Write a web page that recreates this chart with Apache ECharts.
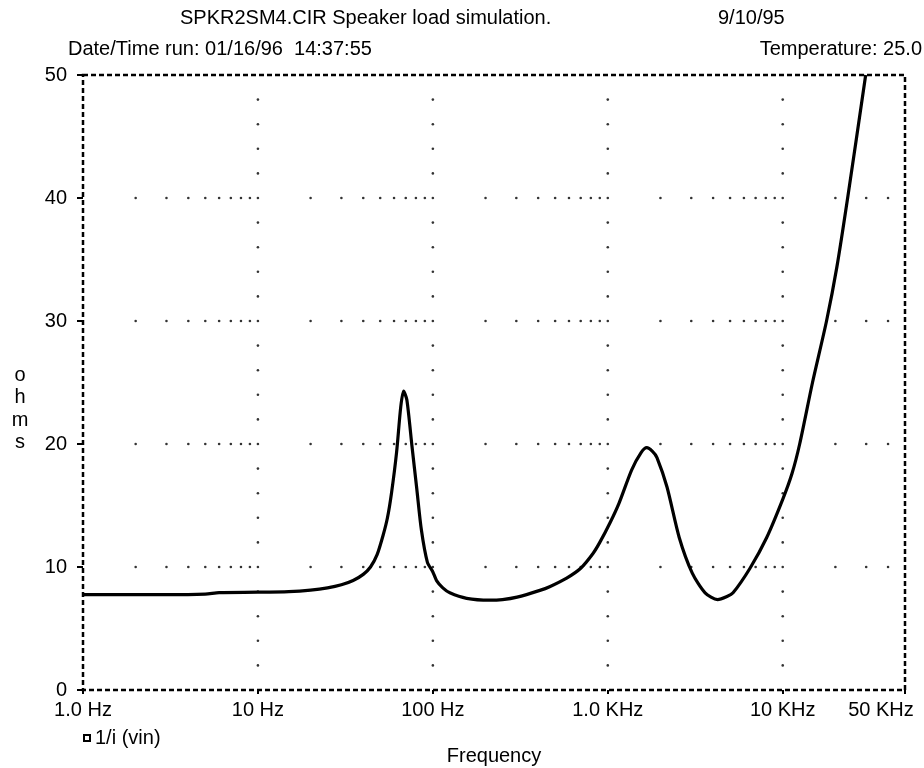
<!DOCTYPE html>
<html>
<head>
<meta charset="utf-8">
<script src="https://cdn.jsdelivr.net/npm/echarts@6/dist/echarts.min.js"></script>
<style>
html,body{margin:0;padding:0;background:#fff;}
#chart{width:924px;height:768px;}
</style>
</head>
<body>
<div id="chart"></div>
<script>
// ---- data ----
const freqHz = [1, 3, 5, 6, 10, 15, 20, 25, 30, 35, 40, 44, 48, 52, 55, 58, 62, 65.5, 68, 71, 76, 81, 86, 93, 100, 105, 114, 125, 156, 211, 250, 303, 409, 465, 582, 700, 823, 900, 1030, 1160, 1370, 1550, 1670, 1800, 1910, 2180, 2560, 3040, 3600, 4240, 4800, 5200, 6500, 8100, 10000, 11300, 12500, 14800, 17800, 20400, 23500, 29800];
const ohms   = [7.75, 7.75, 7.8, 7.92, 7.95, 8.0, 8.12, 8.3, 8.55, 8.9, 9.4, 10.0, 11.0, 12.6, 14.0, 16.0, 19.3, 23.0, 24.3, 23.6, 19.8, 16.3, 13.0, 10.4, 9.6, 8.9, 8.3, 7.9, 7.45, 7.3, 7.35, 7.55, 8.1, 8.4, 9.1, 9.9, 11.1, 12.0, 13.6, 15.2, 17.9, 19.3, 19.7, 19.4, 18.9, 16.5, 12.4, 9.5, 7.9, 7.35, 7.6, 7.9, 9.9, 12.4, 15.5, 17.6, 20.0, 25.0, 30.0, 34.4, 40.0, 50.0];

const xTickValues = [1, 10, 100, 1000, 10000, 50000];
const xTickLabels = ['1.0 Hz', '10 Hz', '100 Hz', '1.0 KHz', '10 KHz', '50 KHz'];
const yTickValues = [0, 10, 20, 30, 40, 50];

const gridLineY = [10, 20, 30, 40];        // dotted horizontal grid lines
const gridLineX = [10, 100, 1000, 10000];  // dotted vertical grid lines
const minorMultipliers = [2, 3, 4, 5, 6, 7, 8, 9];
const decadeBases = [1, 10, 100, 1000, 10000];
const verticalDotStep = 2;

const seriesName = '1/i (vin)';
const titleText = 'SPKR2SM4.CIR Speaker load simulation.';
const titleDate = '9/10/95';
const runText = 'Date/Time run: 01/16/96  14:37:55';
const tempText = 'Temperature: 25.0';
const xName = 'Frequency';
const yNameLetters = ['o', 'h', 'm', 's'];

// ---- build ----
const FONT = '"Liberation Sans", Arial, Helvetica, sans-serif';
const curve = freqHz.map((f, i) => [f, ohms[i]]);

const dots = [];
gridLineY.forEach(y => {
  decadeBases.forEach(b => {
    minorMultipliers.forEach(m => { if (b * m < 50000) dots.push([b * m, y]); });
  });
  gridLineX.forEach(x => dots.push([x, y]));
});
gridLineX.forEach(x => {
  for (let y = verticalDotStep; y < 50; y += verticalDotStep) {
    if (gridLineY.indexOf(y) < 0) dots.push([x, y]);
  }
});

function xLabel(v) {
  let best = 0, bd = Infinity;
  xTickValues.forEach((t, i) => {
    const d = Math.abs(Math.log10(v) - Math.log10(t));
    if (d < bd) { bd = d; best = i; }
  });
  if (bd > 0.01) return '';
  return best === xTickValues.length - 1 ? '{last|' + xTickLabels[best] + '}' : xTickLabels[best];
}

const chart = echarts.init(document.getElementById('chart'), null, {renderer: 'canvas'});

const graphics = [
  {type: 'text', x: 180, y: 18, style: {text: titleText, font: '20px ' + FONT, fill: '#000', verticalAlign: 'middle'}},
  {type: 'text', x: 718, y: 18, style: {text: titleDate, font: '20px ' + FONT, fill: '#000', verticalAlign: 'middle'}},
  {type: 'text', x: 68, y: 49, style: {text: runText, font: '20px ' + FONT, fill: '#000', verticalAlign: 'middle'}},
  {type: 'text', x: 922, y: 49, style: {text: tempText, font: '20px ' + FONT, fill: '#000', align: 'right', verticalAlign: 'middle'}},
  {type: 'text', x: 494, y: 756, style: {text: xName, font: '20px ' + FONT, fill: '#000', align: 'center', verticalAlign: 'middle'}}
];
yNameLetters.forEach((ch, i) => {
  graphics.push({type: 'text', x: 20, y: 375 + i * 22.5, style: {text: ch, font: '20px ' + FONT, fill: '#000', align: 'center', verticalAlign: 'middle'}});
});

chart.setOption({
  backgroundColor: '#fff',
  animation: false,
  grid: {
    left: 83, right: 19, top: 75, bottom: 78,
    show: true, borderColor: '#000', borderWidth: 2.5, borderType: [5, 3], backgroundColor: 'transparent'
  },
  legend: {
    left: 78, top: 723,
    data: [{name: seriesName, icon: 'rect'}],
    itemWidth: 6, itemHeight: 6, itemGap: 4,
    textStyle: {fontFamily: FONT, fontSize: 20, color: '#000', padding: [0, 0, 0, 0]},
    itemStyle: {color: '#fff', borderColor: '#000', borderWidth: 2},
    selectedMode: false
  },
  xAxis: {
    type: 'log', logBase: 10, min: 1, max: 50000,
    axisLine: {show: false},
    axisTick: {show: true, length: 4, inside: false, lineStyle: {color: '#000', width: 2}},
    splitLine: {show: false},
    minorTick: {show: false},
    axisLabel: {
      show: true, margin: 10, color: '#000', fontFamily: FONT, fontSize: 20,
      showMinLabel: true, showMaxLabel: true,
      formatter: xLabel,
      rich: {last: {fontFamily: FONT, fontSize: 20, color: '#000', padding: [0, 48, 0, 0]}}
    }
  },
  yAxis: {
    type: 'value', min: 0, max: 50, interval: 10,
    axisLine: {show: false},
    axisTick: {show: true, length: 6, lineStyle: {color: '#000', width: 2}},
    splitLine: {show: false},
    axisLabel: {
      margin: 16, color: '#000', fontFamily: FONT, fontSize: 20,
      formatter: v => (yTickValues.indexOf(v) >= 0 ? String(v) : '')
    }
  },
  graphic: graphics,
  series: [
    {
      type: 'scatter', name: 'grid', data: dots, symbol: 'circle', symbolSize: 2.6,
      itemStyle: {color: '#000'}, silent: true, z: 1
    },
    {
      type: 'line', name: seriesName, data: curve, smooth: 0.25, showSymbol: false, symbol: 'none',
      lineStyle: {color: '#000', width: 3.2}, itemStyle: {color: '#fff', borderColor: '#000', borderWidth: 2},
      clip: true, z: 3
    }
  ]
});
</script>
</body>
</html>
